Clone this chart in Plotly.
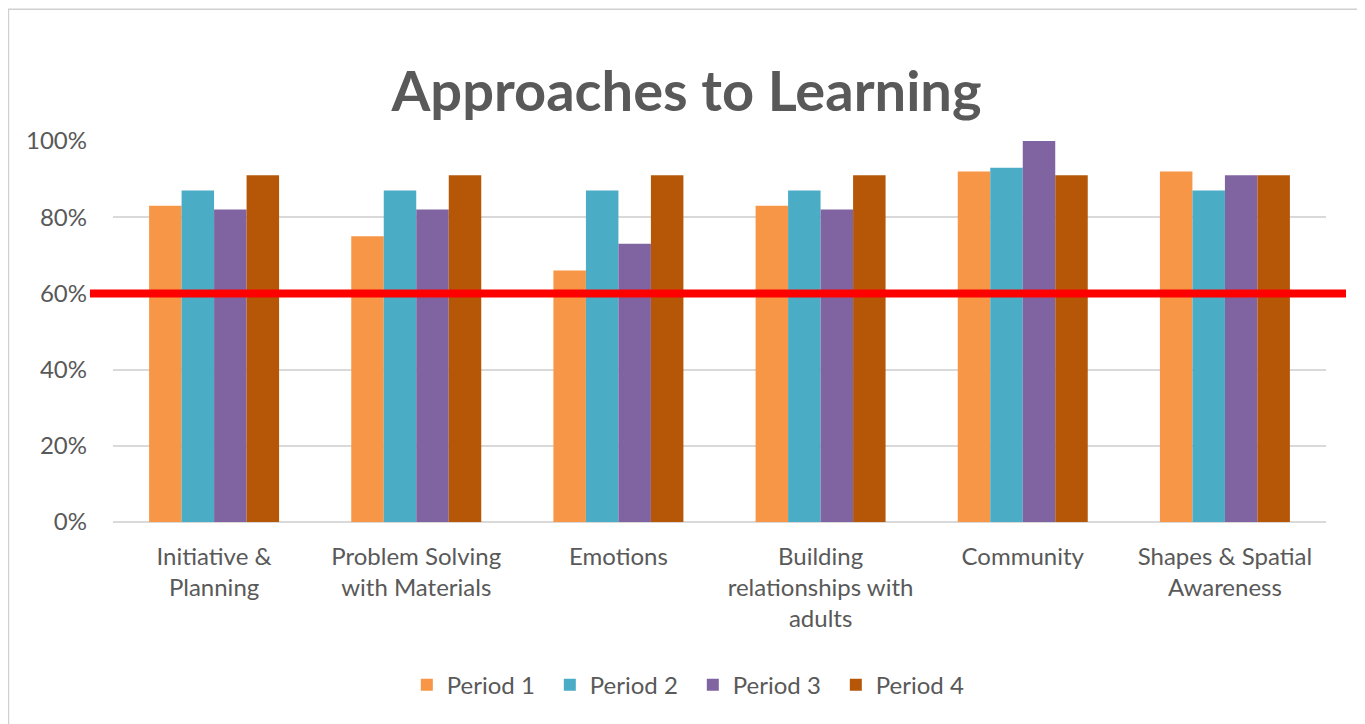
import plotly.graph_objects as go

categories = ["Initiative &<br>Planning", "Problem Solving<br>with Materials", "Emotions",
              "Building<br>relationships with<br>adults", "Community", "Shapes & Spatial<br>Awareness"]
period1 = [0.83, 0.75, 0.66, 0.83, 0.92, 0.92]
period2 = [0.87, 0.87, 0.87, 0.87, 0.93, 0.87]
period3 = [0.82, 0.82, 0.73, 0.82, 1.00, 0.91]
period4 = [0.91, 0.91, 0.91, 0.91, 0.91, 0.91]
series_names = ["Period 1", "Period 2", "Period 3", "Period 4"]
colors = ["#F79646", "#4BACC6", "#8064A2", "#B65708"]
threshold = 0.60

FONT = "Lato, 'Open Sans', sans-serif"

fig = go.Figure()
for name, vals, c in zip(series_names, [period1, period2, period3, period4], colors):
    fig.add_trace(go.Bar(name=name, x=categories, y=vals, marker=dict(color=c, line=dict(width=0))))

# plot area in figure px: x 105..1318 (1213 wide), y 133..514 (381 tall)
fig.add_shape(type="line", xref="paper", yref="y", x0=-0.019, x1=1.0165, y0=threshold, y1=threshold,
              line=dict(color="#FF0000", width=8))
fig.add_shape(type="rect", xref="paper", yref="paper", x0=-0.0862, x1=1.0285, y0=-0.56, y1=1.346,
              line=dict(color="#D0D0D0", width=1.5), layer="below")

fig.update_layout(
    width=1357, height=716,
    paper_bgcolor="white", plot_bgcolor="white",
    margin=dict(l=105, r=39, t=133, b=202, autoexpand=False),
    barmode="group", bargap=0.357, bargroupgap=0,
    title=dict(text="<b>Approaches to Learning</b>", x=0.5, xanchor="center", y=0.883, yanchor="middle",
               font=dict(family=FONT, size=56, color="#595959")),
    font=dict(family=FONT, color="#595959", size=24),
    legend=dict(orientation="h", x=0.478, xanchor="center", y=-0.428, yanchor="middle",
                font=dict(size=24, color="#595959"), itemwidth=30, traceorder="normal",
                entrywidth=98, entrywidthmode="pixels"),
    xaxis=dict(showgrid=False, showline=False, ticks="", tickfont=dict(size=24, color="#595959"),
               ticklabelstandoff=18),
    yaxis=dict(range=[0, 1.0], tickvals=[0, 0.2, 0.4, 0.6, 0.8, 1.0], tickformat=".0%",
               gridcolor="#D9D9D9", gridwidth=1.5, zeroline=True, zerolinecolor="#D9D9D9", zerolinewidth=1.5,
               showline=False, ticks="", tickfont=dict(size=24, color="#595959"), ticklabelstandoff=25),
)

fig.write_html("out.html")
